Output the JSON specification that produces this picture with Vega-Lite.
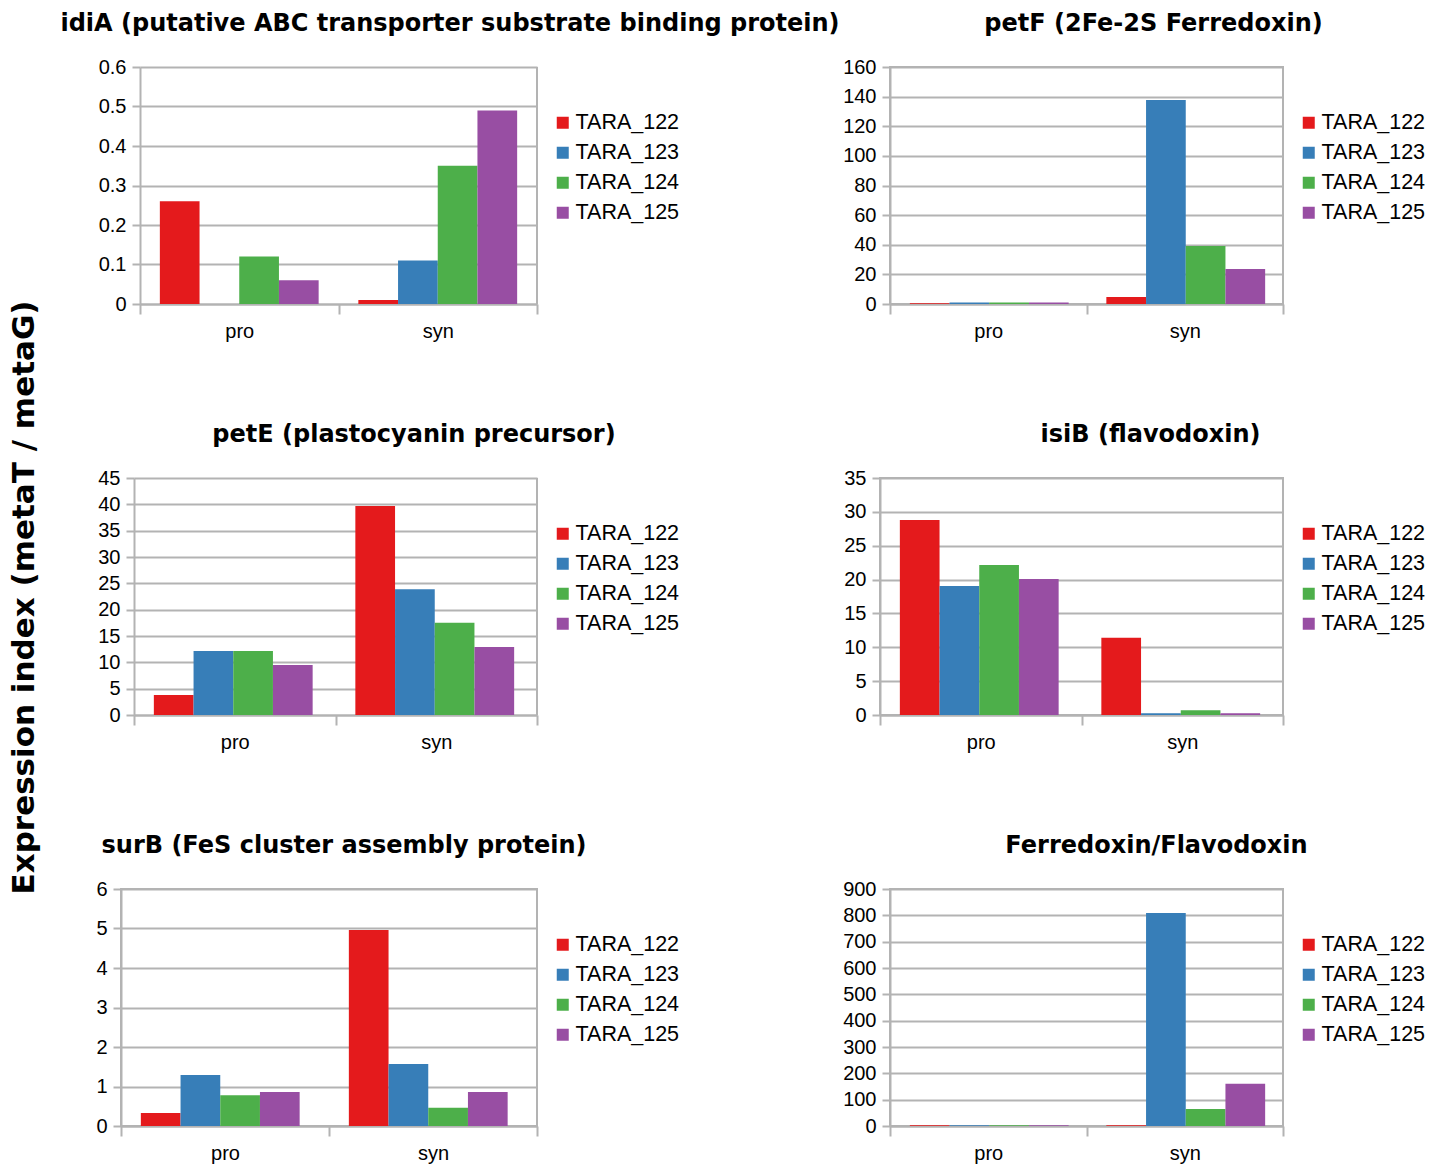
{
  "$schema": "https://vega.github.io/schema/vega-lite/v6.json",
  "padding": {"left": 9, "top": 11, "right": 5, "bottom": 5},
  "background": "white",
  "title": {"text": "Expression index (metaT / metaG)", "orient": "left", "anchor": "middle", "frame": "bounds", "font": "DejaVu Sans", "fontSize": 31, "fontWeight": "bold", "color": "#000000", "offset": 19, "dx": -10},
  "datasets": {
    "expr": [
      {"gene": "idiA", "group": "pro", "sample": "TARA_122", "value": 0.26},
      {"gene": "idiA", "group": "pro", "sample": "TARA_123", "value": 0},
      {"gene": "idiA", "group": "pro", "sample": "TARA_124", "value": 0.12},
      {"gene": "idiA", "group": "pro", "sample": "TARA_125", "value": 0.06},
      {"gene": "idiA", "group": "syn", "sample": "TARA_122", "value": 0.01},
      {"gene": "idiA", "group": "syn", "sample": "TARA_123", "value": 0.11},
      {"gene": "idiA", "group": "syn", "sample": "TARA_124", "value": 0.35},
      {"gene": "idiA", "group": "syn", "sample": "TARA_125", "value": 0.49},
      {"gene": "petF", "group": "pro", "sample": "TARA_122", "value": 0.5},
      {"gene": "petF", "group": "pro", "sample": "TARA_123", "value": 1},
      {"gene": "petF", "group": "pro", "sample": "TARA_124", "value": 1},
      {"gene": "petF", "group": "pro", "sample": "TARA_125", "value": 1},
      {"gene": "petF", "group": "syn", "sample": "TARA_122", "value": 4.7},
      {"gene": "petF", "group": "syn", "sample": "TARA_123", "value": 137.7},
      {"gene": "petF", "group": "syn", "sample": "TARA_124", "value": 39.2},
      {"gene": "petF", "group": "syn", "sample": "TARA_125", "value": 23.6},
      {"gene": "petE", "group": "pro", "sample": "TARA_122", "value": 3.8},
      {"gene": "petE", "group": "pro", "sample": "TARA_123", "value": 12.15},
      {"gene": "petE", "group": "pro", "sample": "TARA_124", "value": 12.15},
      {"gene": "petE", "group": "pro", "sample": "TARA_125", "value": 9.5},
      {"gene": "petE", "group": "syn", "sample": "TARA_122", "value": 39.7},
      {"gene": "petE", "group": "syn", "sample": "TARA_123", "value": 23.9},
      {"gene": "petE", "group": "syn", "sample": "TARA_124", "value": 17.5},
      {"gene": "petE", "group": "syn", "sample": "TARA_125", "value": 12.9},
      {"gene": "isiB", "group": "pro", "sample": "TARA_122", "value": 28.8},
      {"gene": "isiB", "group": "pro", "sample": "TARA_123", "value": 19.05},
      {"gene": "isiB", "group": "pro", "sample": "TARA_124", "value": 22.15},
      {"gene": "isiB", "group": "pro", "sample": "TARA_125", "value": 20.1},
      {"gene": "isiB", "group": "syn", "sample": "TARA_122", "value": 11.4},
      {"gene": "isiB", "group": "syn", "sample": "TARA_123", "value": 0.25},
      {"gene": "isiB", "group": "syn", "sample": "TARA_124", "value": 0.7},
      {"gene": "isiB", "group": "syn", "sample": "TARA_125", "value": 0.25},
      {"gene": "surB", "group": "pro", "sample": "TARA_122", "value": 0.33},
      {"gene": "surB", "group": "pro", "sample": "TARA_123", "value": 1.29},
      {"gene": "surB", "group": "pro", "sample": "TARA_124", "value": 0.78},
      {"gene": "surB", "group": "pro", "sample": "TARA_125", "value": 0.86},
      {"gene": "surB", "group": "syn", "sample": "TARA_122", "value": 4.96},
      {"gene": "surB", "group": "syn", "sample": "TARA_123", "value": 1.57},
      {"gene": "surB", "group": "syn", "sample": "TARA_124", "value": 0.46},
      {"gene": "surB", "group": "syn", "sample": "TARA_125", "value": 0.86},
      {"gene": "FdFld", "group": "pro", "sample": "TARA_122", "value": 3},
      {"gene": "FdFld", "group": "pro", "sample": "TARA_123", "value": 3},
      {"gene": "FdFld", "group": "pro", "sample": "TARA_124", "value": 3},
      {"gene": "FdFld", "group": "pro", "sample": "TARA_125", "value": 3},
      {"gene": "FdFld", "group": "syn", "sample": "TARA_122", "value": 3},
      {"gene": "FdFld", "group": "syn", "sample": "TARA_123", "value": 809},
      {"gene": "FdFld", "group": "syn", "sample": "TARA_124", "value": 65},
      {"gene": "FdFld", "group": "syn", "sample": "TARA_125", "value": 160}
    ]
  },
  "data": {"name": "expr"},
  "config": {
    "font": "Liberation Sans",
    "view": {"stroke": "#b3b3b3", "strokeWidth": 2},
    "bar": {"stroke": null},
    "axis": {"labelFont": "Liberation Sans", "labelFontSize": 20, "labelColor": "#000000", "domainColor": "#b3b3b3", "domainWidth": 2, "tickColor": "#b3b3b3", "tickWidth": 2, "gridColor": "#b3b3b3", "gridWidth": 2},
    "axisX": {"tickBand": "extent", "tickSize": 10, "grid": false, "labelAngle": 0, "labelPadding": 7},
    "axisY": {"tickSize": 8, "labelPadding": 6, "grid": true, "format": "~r"},
    "legend": {"orient": "none", "symbolType": "square", "symbolSize": 144, "symbolStrokeWidth": 0, "labelFont": "Liberation Sans", "labelFontSize": 21.5, "labelColor": "#000000", "labelOffset": 2, "rowPadding": 7, "padding": 0, "title": null},
    "title": {"font": "DejaVu Sans", "fontSize": 24, "fontWeight": "bold", "color": "#000000", "anchor": "middle", "frame": "group", "offset": 21}
  },
  "columns": 1,
  "spacing": 80,
  "concat": [
    {
      "spacing": 1,
      "hconcat": [
        {
          "width": 416, "height": 237,
          "view": {"stroke": null},
          "title": {"text": "idiA (putative ABC transporter substrate binding protein)", "dx": 121},
          "transform": [{"filter": "datum.gene === 'idiA'"}],
          "layer": [
            {
              "mark": "bar",
              "encoding": {
                "x": {"field": "group", "type": "nominal", "title": null, "scale": {"paddingInner": 0, "paddingOuter": 0, "range": [19, 416]}},
                "xOffset": {"field": "sample", "scale": {"paddingInner": 0, "paddingOuter": 0.5}},
                "y": {"field": "value", "type": "quantitative", "title": null, "scale": {"domain": [0, 0.6]}, "axis": {"values": [0, 0.1, 0.2, 0.3, 0.4, 0.5, 0.6], "offset": -19}},
                "color": {"field": "sample", "type": "nominal", "scale": {"domain": ["TARA_122", "TARA_123", "TARA_124", "TARA_125"], "range": ["#e41a1c", "#377eb8", "#4daf4a", "#984ea3"]}, "legend": {"legendX": 431, "legendY": 45}}
              }
            },
            {
              "mark": {"type": "rule", "color": "#b3b3b3", "strokeWidth": 2},
              "encoding": {"x": {"datum": "syn", "type": "nominal", "bandPosition": 1}}
            }
          ]
        },
        {
          "width": 393, "height": 237,
          "title": {"text": "petF (2Fe-2S Ferredoxin)", "dx": 67},
          "transform": [{"filter": "datum.gene === 'petF'"}],
          "mark": "bar",
          "encoding": {
            "x": {"field": "group", "type": "nominal", "title": null, "scale": {"paddingInner": 0, "paddingOuter": 0}},
            "xOffset": {"field": "sample", "scale": {"paddingInner": 0, "paddingOuter": 0.5}},
            "y": {"field": "value", "type": "quantitative", "title": null, "scale": {"domain": [0, 160]}, "axis": {"values": [0, 20, 40, 60, 80, 100, 120, 140, 160]}},
            "color": {"field": "sample", "type": "nominal", "scale": {"domain": ["TARA_122", "TARA_123", "TARA_124", "TARA_125"], "range": ["#e41a1c", "#377eb8", "#4daf4a", "#984ea3"]}, "legend": {"legendX": 408, "legendY": 45}}
          }
        }
      ],
      "resolve": {"scale": {"y": "independent", "x": "independent", "color": "independent"}, "legend": {"color": "independent"}}
    },
    {
      "spacing": 162,
      "hconcat": [
        {
          "width": 416, "height": 237,
          "view": {"stroke": null},
          "title": {"text": "petE (plastocyanin precursor)", "dx": 85},
          "transform": [{"filter": "datum.gene === 'petE'"}],
          "layer": [
            {
              "mark": "bar",
              "encoding": {
                "x": {"field": "group", "type": "nominal", "title": null, "scale": {"paddingInner": 0, "paddingOuter": 0, "range": [13, 416]}},
                "xOffset": {"field": "sample", "scale": {"paddingInner": 0, "paddingOuter": 0.5}},
                "y": {"field": "value", "type": "quantitative", "title": null, "scale": {"domain": [0, 45]}, "axis": {"values": [0, 5, 10, 15, 20, 25, 30, 35, 40, 45], "offset": -13}},
                "color": {"field": "sample", "type": "nominal", "scale": {"domain": ["TARA_122", "TARA_123", "TARA_124", "TARA_125"], "range": ["#e41a1c", "#377eb8", "#4daf4a", "#984ea3"]}, "legend": {"legendX": 431, "legendY": 45}}
              }
            },
            {
              "mark": {"type": "rule", "color": "#b3b3b3", "strokeWidth": 2},
              "encoding": {"x": {"datum": "syn", "type": "nominal", "bandPosition": 1}}
            }
          ]
        },
        {
          "width": 403, "height": 237,
          "title": {"text": "isiB (flavodoxin)", "dx": 69},
          "transform": [{"filter": "datum.gene === 'isiB'"}],
          "mark": "bar",
          "encoding": {
            "x": {"field": "group", "type": "nominal", "title": null, "scale": {"paddingInner": 0, "paddingOuter": 0}},
            "xOffset": {"field": "sample", "scale": {"paddingInner": 0, "paddingOuter": 0.5}},
            "y": {"field": "value", "type": "quantitative", "title": null, "scale": {"domain": [0, 35]}, "axis": {"values": [0, 5, 10, 15, 20, 25, 30, 35]}},
            "color": {"field": "sample", "type": "nominal", "scale": {"domain": ["TARA_122", "TARA_123", "TARA_124", "TARA_125"], "range": ["#e41a1c", "#377eb8", "#4daf4a", "#984ea3"]}, "legend": {"legendX": 418, "legendY": 45}}
          }
        }
      ],
      "resolve": {"scale": {"y": "independent", "x": "independent", "color": "independent"}, "legend": {"color": "independent"}}
    },
    {
      "spacing": 160,
      "hconcat": [
        {
          "width": 416, "height": 237,
          "title": {"text": "surB (FeS cluster assembly protein)", "dx": 15},
          "transform": [{"filter": "datum.gene === 'surB'"}],
          "mark": "bar",
          "encoding": {
            "x": {"field": "group", "type": "nominal", "title": null, "scale": {"paddingInner": 0, "paddingOuter": 0}},
            "xOffset": {"field": "sample", "scale": {"paddingInner": 0, "paddingOuter": 0.5}},
            "y": {"field": "value", "type": "quantitative", "title": null, "scale": {"domain": [0, 6]}, "axis": {"values": [0, 1, 2, 3, 4, 5, 6]}},
            "color": {"field": "sample", "type": "nominal", "scale": {"domain": ["TARA_122", "TARA_123", "TARA_124", "TARA_125"], "range": ["#e41a1c", "#377eb8", "#4daf4a", "#984ea3"]}, "legend": {"legendX": 431, "legendY": 45}}
          }
        },
        {
          "width": 393, "height": 237,
          "title": {"text": "Ferredoxin/Flavodoxin", "dx": 70},
          "transform": [{"filter": "datum.gene === 'FdFld'"}],
          "mark": "bar",
          "encoding": {
            "x": {"field": "group", "type": "nominal", "title": null, "scale": {"paddingInner": 0, "paddingOuter": 0}},
            "xOffset": {"field": "sample", "scale": {"paddingInner": 0, "paddingOuter": 0.5}},
            "y": {"field": "value", "type": "quantitative", "title": null, "scale": {"domain": [0, 900]}, "axis": {"values": [0, 100, 200, 300, 400, 500, 600, 700, 800, 900]}},
            "color": {"field": "sample", "type": "nominal", "scale": {"domain": ["TARA_122", "TARA_123", "TARA_124", "TARA_125"], "range": ["#e41a1c", "#377eb8", "#4daf4a", "#984ea3"]}, "legend": {"legendX": 408, "legendY": 45}}
          }
        }
      ],
      "resolve": {"scale": {"y": "independent", "x": "independent", "color": "independent"}, "legend": {"color": "independent"}}
    }
  ],
  "resolve": {"scale": {"y": "independent", "x": "independent", "color": "independent"}, "legend": {"color": "independent"}}
}
